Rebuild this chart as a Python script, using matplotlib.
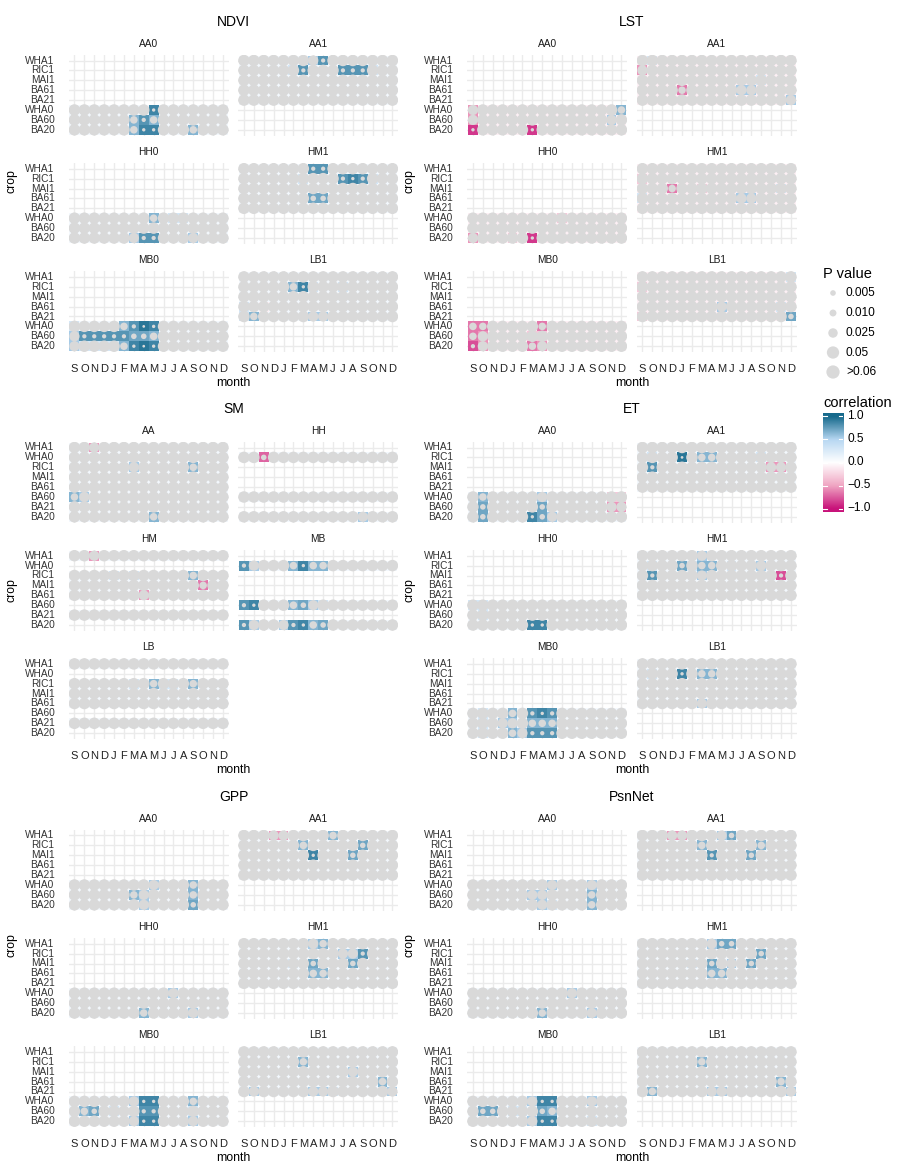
import numpy as np
import matplotlib
matplotlib.use("Agg")
import matplotlib.pyplot as plt
from matplotlib.colors import LinearSegmentedColormap

plt.rcParams['font.family'] = ['Liberation Sans', 'DejaVu Sans']

W, H, DPI = 898, 1162, 100

months = ['S', 'O', 'N', 'D', 'J', 'F', 'M', 'A', 'M', 'J', 'J', 'A', 'S', 'O', 'N', 'D']
crops = ['WHA1', 'RIC1', 'MAI1', 'BA61', 'BA21', 'WHA0', 'BA60', 'BA20']
crops_sm = ['WHA1', 'WHA0', 'RIC1', 'MAI1', 'BA61', 'BA60', 'BA21', 'BA20']

# cell codes: '.'/',' weak +/- correlation, '1'..'7' positive levels, 'a'..'g' negative levels
level_r = [0.08, 0.3, 0.55, 0.65, 0.72, 0.8, 0.87, 0.94]
level_p = [0.5, 0.3, 0.045, 0.02, 0.008, 0.003, 0.001, 0.0002]

E = '................'
C = ',,,,,,,,,,,,,,,,'

ndvi = {
    'AA0': {'WHA0': '........6.......', 'BA60': '......353.......', 'BA20': '......366...3...'},
    'AA1': {'WHA1': '.......25.......', 'RIC1': '.....15...5551..', 'MAI1': E, 'BA61': E, 'BA21': E},
    'HH0': {'WHA0': '........3.11....', 'BA60': E, 'BA20': '......255...2...'},
    'HM1': {'WHA1': '.......55.......', 'RIC1': '......1...5651..', 'MAI1': E,
            'BA61': '.......44.......', 'BA21': E},
    'MB0': {'WHA0': '1....3576.......', 'BA60': '255555443.......', 'BA20': '211113676.......'},
    'LB1': {'WHA1': E, 'RIC1': '.....361..1.....', 'MAI1': E, 'BA61': '1.,.............',
            'BA21': '13.....22.......'},
}

lst = {
    'AA0': {'WHA0': 'b,,,,,,,,,,,,,,3', 'BA60': 'b,,,,,,,,,,,,,2,', 'BA20': 'f,,,,,f,,,,,,,,,'},
    'AA1': {'WHA1': ',1,,,,,,,,,,,,,,', 'RIC1': 'b,,,,,,,,,,,,,,,', 'MAI1': ',,,,,,,,,,,,1,,,',
            'BA61': ',,,,c,,,,,22,,,,', 'BA21': ',,,,,,,,,,,,,,,2'},
    'HH0': {'WHA0': ',,,,,,,,,a,,,,,,', 'BA60': C, 'BA20': 'b,,,a,f,,,,,,,,,'},
    'HM1': {'WHA1': C, 'RIC1': 'a,,,,,,,,,,,,,,,', 'MAI1': ',,,c,,a,,,,,,,1,',
            'BA61': '1,,,,,,,,,22,,,,', 'BA21': C},
    'MB0': {'WHA0': 'cc,,,,,c,,,,,,,,', 'BA60': 'cb,,,,aa,,,,,,,,', 'BA20': 'eb,,,,cb,,,,,,,,'},
    'LB1': {'WHA1': ',,,,,,,,,,,,,,,1', 'RIC1': 'a,,,,,,,,,,,,,,,', 'MAI1': C,
            'BA61': ',,,,,,,,2,,,,,1,', 'BA21': 'a,,,,,,,,,,,,,,4'},
}

sm = {
    'AA': {'WHA1': '..b.............', 'WHA0': E, 'RIC1': '......2.....3...', 'MAI1': E,
           'BA61': E, 'BA60': '32..............', 'BA21': E, 'BA20': '........3.......'},
    'HH': {'WHA0': '..d.............', 'BA60': E, 'BA20': '............2...'},
    'HM': {'WHA1': '..b.............', 'RIC1': '....1.1.....3...', 'MAI1': '.............c..',
           'BA61': '.......b........', 'BA21': E},
    'MB': {'WHA0': '52...3633.......', 'BA60': '56...3421.......', 'BA20': '52..25634.......'},
    'LB': {'WHA1': E, 'RIC1': '......1.311.3...', 'MAI1': E, 'BA61': E, 'BA21': E},
}

et = {
    'AA0': {'WHA0': '.3.....2......aa', 'BA60': '.4.....4......bb', 'BA20': '.4....642.......'},
    'AA1': {'WHA1': E, 'RIC1': '.1..7.33....1...', 'MAI1': '.5...........bb.', 'BA61': E, 'BA21': E},
    'HH0': {'WHA0': '11..............', 'BA60': '.1..............', 'BA20': '......66........'},
    'HM1': {'WHA1': '......2.........', 'RIC1': '.1..4133.1..2...', 'MAI1': '.5....2.......e.',
            'BA61': E, 'BA21': E},
    'MB0': {'WHA0': '.1..3.565.......', 'BA60': '.1.22.333.......', 'BA20': '.1..32555.......'},
    'LB1': {'WHA1': E, 'RIC1': '.1..6.33........', 'MAI1': E, 'BA61': E, 'BA21': '......2.........'},
}

gpp = {
    'AA0': {'WHA0': '........2...3...', 'BA60': '......32....3...', 'BA20': '.......2....4...'},
    'AA1': {'WHA1': '...bb....3......', 'RIC1': '......3.....4...', 'MAI1': '.......6...4....',
            'BA61': E, 'BA21': E},
    'HH0': {'WHA0': '..........2.....', 'BA60': E, 'BA20': '.......3....2...'},
    'HM1': {'WHA1': '.......23.......', 'RIC1': '..........225...', 'MAI1': '.....1.4...4....',
            'BA61': '.......33.......', 'BA21': E},
    'MB0': {'WHA0': '......266...3...', 'BA60': '.34.1..55...1...', 'BA20': '......266...2...'},
    'LB1': {'WHA1': E, 'RIC1': '......3.........', 'MAI1': '...........2....',
            'BA61': '..............3.', 'BA21': '.2.....221.....2'},
}

psnnet = {
    'AA0': {'WHA0': '........2...2...', 'BA60': '......22....3...', 'BA20': '.......21...3...'},
    'AA1': {'WHA1': '...bb...24......', 'RIC1': '......3.....3...', 'MAI1': '.......5...4....',
            'BA61': E, 'BA21': E},
    'HH0': {'WHA0': '..........2.....', 'BA60': E, 'BA20': '.......3....2...'},
    'HM1': {'WHA1': '.......244......', 'RIC1': '............4...', 'MAI1': '.....1.4.2.4....',
            'BA61': '.......33.......', 'BA21': E},
    'MB0': {'WHA0': '......266...2...', 'BA60': '.44.11.43.......', 'BA20': '......266...1...'},
    'LB1': {'WHA1': E, 'RIC1': '......3.........', 'MAI1': E,
            'BA61': '..............3.', 'BA21': '.3.....22......2'},
}

p_breaks = [0.005, 0.010, 0.025, 0.05, 0.06]
p_labels = ['0.005', '0.010', '0.025', '0.05', '>0.06']
corr_breaks = [1.0, 0.5, 0.0, -0.5, -1.0]


def decode(ch):
    if ch == '.':
        return level_r[0], level_p[0]
    if ch == ',':
        return -level_r[0], level_p[0]
    if ch.isdigit():
        k = int(ch)
        return level_r[k], level_p[k]
    k = ord(ch) - ord('a') + 1
    return -level_r[k], level_p[k]


cmap = LinearSegmentedColormap.from_list('corr', [
    (0.0, '#C8137A'), (0.25, '#F0A6C3'), (0.5, '#FFFFFF'), (0.75, '#B7D7F2'), (1.0, '#176A8C')])


def dot_size(p, scale=1.0):
    d_px = (2.2 + 38.0 * np.sqrt(min(p, 0.06))) * scale
    return (d_px * 72 / DPI) ** 2


fig = plt.figure(figsize=(W / DPI, H / DPI), dpi=DPI)
fig.patch.set_facecolor('white')

CELL = 9.9
PW = 16.2 * CELL
PH = 8.2 * CELL
FACET_STEP = 108.2
GREY = '#D9D9D9'


def fig_text(x, y, s, **kw):
    fig.text(x / W, 1 - y / H, s, **kw)


def draw_panel(left, row0, data, crop_order):
    top = row0 - 0.6 * CELL
    ax = fig.add_axes([left / W, 1 - (top + PH) / H, PW / W, PH / H])
    ax.set_xlim(-0.6, 15.6)
    ax.set_ylim(7.6, -0.6)
    ax.axis('off')
    for k in range(16):
        ax.axvline(k, color='#EBEBEB', lw=1.0, zorder=0)
    for r in range(8):
        ax.axhline(r, color='#EBEBEB', lw=1.0, zorder=0)
    vals = np.full((8, 16), np.nan)
    xs, ys, ss = [], [], []
    for crop, row in data.items():
        r = crop_order.index(crop)
        for k, ch in enumerate(row):
            cr, p = decode(ch)
            vals[r, k] = cr
            xs.append(k)
            ys.append(r)
            ss.append(dot_size(p))
    ax.pcolormesh(np.arange(17) - 0.5, np.arange(9) - 0.5, np.ma.masked_invalid(vals),
                  cmap=cmap, vmin=-1, vmax=1, shading='flat', edgecolors='none',
                  antialiased=False, zorder=1)
    ax.scatter(xs, ys, s=ss, c=GREY, edgecolors='none', zorder=2)
    return ax


def draw_group(x0, title_y, title, data, crop_order, crop_label_y):
    row_first = title_y + 38.5
    lefts = [x0, x0 + 169.5]
    center = (x0 + lefts[1] + PW) / 2
    fig_text(center, title_y, title, ha='center', va='center', fontsize=10, color='black')
    for i, (facet, fdata) in enumerate(data.items()):
        col, rr = i % 2, i // 2
        row0 = row_first + rr * FACET_STEP
        left = lefts[col]
        draw_panel(left, row0, fdata, crop_order)
        fig_text(left + PW / 2, row0 - 16.5, facet, ha='center', va='center',
                 fontsize=7.3, color='#1A1A1A')
        if col == 0:
            for r, crop in enumerate(crop_order):
                fig_text(left - 14, row0 + r * CELL, crop, ha='right', va='center',
                         fontsize=7.3, color='#333333')
        if rr == 2:
            for k, m in enumerate(months):
                fig_text(left + (0.6 + k) * CELL, row0 + 7 * CELL + 23, m, ha='center',
                         va='center', fontsize=8, color='#222222')
    fig_text(center, row_first + 2 * FACET_STEP + 7 * CELL + 37, 'month', ha='center',
             va='center', fontsize=8.8, color='black')
    fig_text(x0 - 57, crop_label_y, 'crop', ha='center', va='center', fontsize=8.8,
             rotation=90, color='black')


draw_group(68.5, 22, 'NDVI', ndvi, crops, 181)
draw_group(467, 22, 'LST', lst, crops, 181)
draw_group(68.5, 409, 'SM', sm, crops_sm, 590)
draw_group(467, 409, 'ET', et, crops, 590)
draw_group(68.5, 797, 'GPP', gpp, crops, 945)
draw_group(467, 797, 'PsnNet', psnnet, crops, 945)

# P value legend
fig_text(823, 274, 'P value', ha='left', va='center', fontsize=10.5, color='black')
leg_ax = fig.add_axes([823 / W, 1 - 382 / H, 20 / W, 100 / H])
leg_ax.set_xlim(0, 20)
leg_ax.set_ylim(382, 282)
leg_ax.axis('off')
key_y = [293, 313, 333, 352.5, 372]
leg_ax.scatter([10] * len(p_breaks), key_y, s=[dot_size(p, 1.15) for p in p_breaks], c=GREY,
               edgecolors='none', clip_on=False)
for yy, lab in zip(key_y, p_labels):
    fig_text(846, yy, lab, ha='left', va='center', fontsize=8.6, color='black')

# correlation colorbar
fig_text(823, 403, 'correlation', ha='left', va='center', fontsize=10.5, color='black')
cb_top, cb_bot = 413, 512
cb_ax = fig.add_axes([823 / W, 1 - cb_bot / H, 20 / W, (cb_bot - cb_top) / H])
lo, hi = -1.07, 1.07
grad = np.linspace(hi, lo, 200).reshape(-1, 1)
cb_ax.imshow(np.clip(grad, -1, 1), cmap=cmap, vmin=-1, vmax=1, aspect='auto',
             extent=[0, 1, lo, hi], origin='upper')
cb_ax.set_xlim(0, 1)
cb_ax.set_ylim(lo, hi)
cb_ax.axis('off')
for v in corr_breaks:
    cb_ax.plot([0, 0.2], [v, v], color='white', lw=0.8)
    cb_ax.plot([0.8, 1], [v, v], color='white', lw=0.8)
    yy = 462 - v * 46
    fig_text(847, yy, f'{v:.1f}'.replace('-', '\u2212'), ha='left', va='center',
             fontsize=8.6, color='black')

fig.savefig('out.png', dpi=DPI, facecolor='white')
